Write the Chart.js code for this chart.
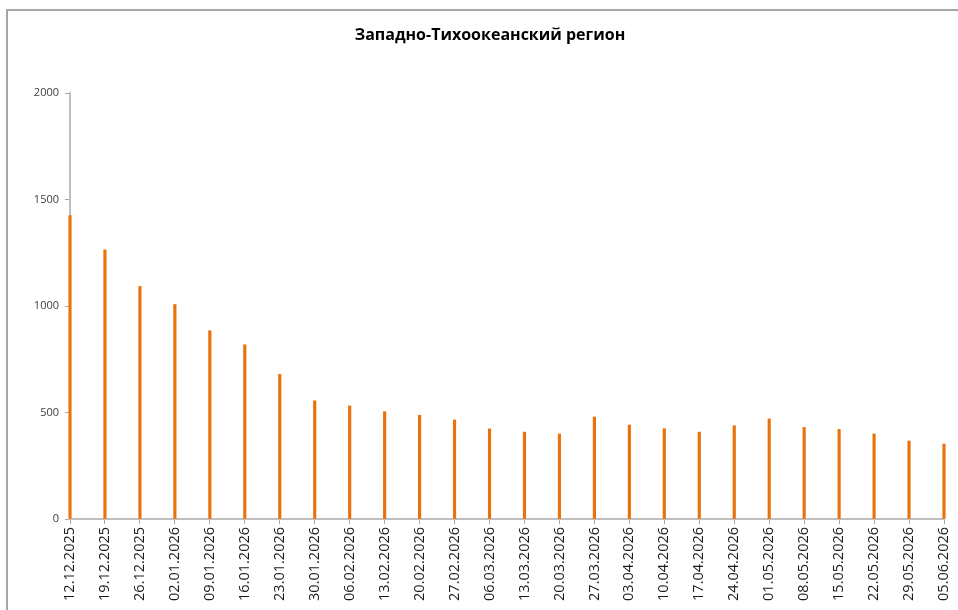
<!DOCTYPE html>
<html>
<head>
<meta charset="utf-8">
<script src="https://cdn.jsdelivr.net/npm/chart.js@4"></script>
<style>
  html, body { margin: 0; padding: 0; background: #fff; overflow: hidden; }
  #wrap { position: relative; width: 958px; height: 610px; }
  #frame { position: absolute; left: 6px; top: 9px; width: 1000px; height: 700px;
           border-left: 2px solid #a6a6a6; border-top: 2px solid #a6a6a6; }
  #title { position: absolute; left: 0; width: 980px; top: 23px; text-align: center;
           font: bold 16px "Open Sans", sans-serif; color: #000; }
  #chart { position: absolute; left: 0; top: 0; }
</style>
</head>
<body>
<div id="wrap">
  <div id="frame"></div>
  <canvas id="chart" width="958" height="610"></canvas>
  <div id="title"></div>
</div>
<script>
const chartTitle = "Западно-Тихоокеанский регион";
const dates = [
    "12.12.2025", "19.12.2025", "26.12.2025", "02.01.2026", "09.01.2026", "16.01.2026",
    "23.01.2026", "30.01.2026", "06.02.2026", "13.02.2026", "20.02.2026", "27.02.2026",
    "06.03.2026", "13.03.2026", "20.03.2026", "27.03.2026", "03.04.2026", "10.04.2026",
    "17.04.2026", "24.04.2026", "01.05.2026", "08.05.2026", "15.05.2026", "22.05.2026",
    "29.05.2026", "05.06.2026"
];
const cases = [
    1425, 1264, 1092, 1007, 884, 818,
    679, 555, 531, 504, 487, 465,
    423, 408, 399, 479, 441, 424,
    408, 438, 470, 430, 421, 399,
    366, 352
];
const yTicks = [0, 500, 1000, 1500, 2000];

function initChart() {
    document.getElementById('title').textContent = chartTitle;
    const ctx = document.getElementById('chart').getContext('2d');
    window.regionChart = new Chart(ctx, {
        type: 'bar',
        data: {
            labels: dates,
            datasets: [{
                data: cases,
                backgroundColor: '#e8720c',
                barThickness: 2.5,
                clip: false
            }]
        },
        options: {
            responsive: false,
            animation: false,
            layout: { padding: { left: 0, right: 14, top: 93, bottom: 0 } },
            plugins: {
                legend: { display: false },
                tooltip: { enabled: false },
                title: { display: false }
            },
            scales: {
                x: {
                    offset: false,
                    grid: { display: true, drawOnChartArea: false, offset: false, tickLength: 5, color: '#a6a6a6' },
                    border: { color: '#bfbfbf', width: 2 },
                    ticks: {
                        minRotation: 90, maxRotation: 90, autoSkip: false, padding: 3,
                        color: '#1a1a1a', font: { family: 'Open Sans', size: 14.5 }
                    },
                    afterFit: (scale) => {
                        scale.height = 91;
                        scale.paddingLeft = 0;
                        scale.paddingRight = 0;
                    }
                },
                y: {
                    min: 0, max: 2000,
                    afterBuildTicks: (scale) => { scale.ticks = yTicks.map(v => ({ value: v })); },
                    grid: { display: true, drawOnChartArea: false, tickLength: 5, color: '#a6a6a6' },
                    border: { color: '#bfbfbf', width: 2 },
                    ticks: {
                        padding: 6, color: '#404040',
                        font: { family: 'Open Sans', size: 11 },
                        callback: (value) => String(value)
                    },
                    afterFit: (scale) => { scale.width = 70; }
                }
            }
        }
    });
}

initChart();
</script>
</body>
</html>
